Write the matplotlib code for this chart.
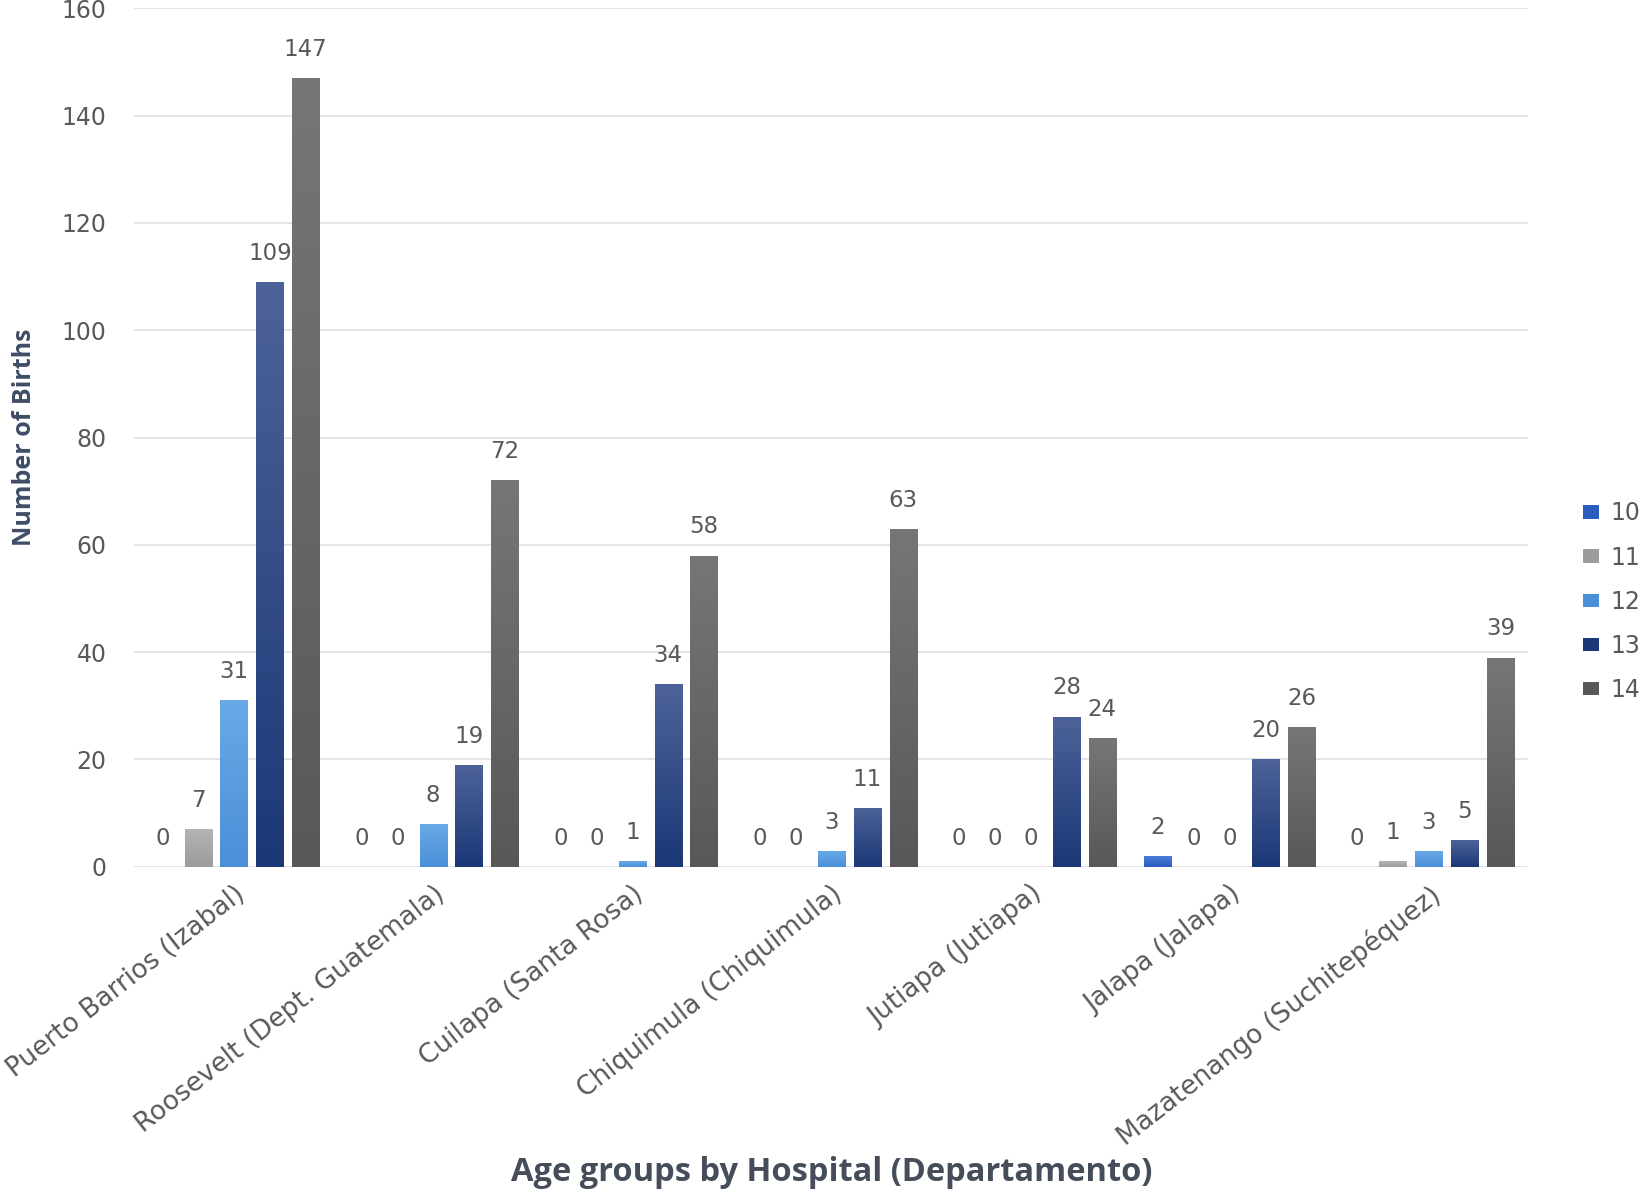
import numpy as np
import matplotlib
matplotlib.use("Agg")
import matplotlib.pyplot as plt
from matplotlib.colors import LinearSegmentedColormap
from matplotlib.patches import Patch

# Births by mother's age at each hospital
hospitals = ["Puerto Barrios (Izabal)", "Roosevelt (Dept. Guatemala)",
             "Cuilapa (Santa Rosa)", "Chiquimula (Chiquimula)",
             "Jutiapa (Jutiapa)", "Jalapa (Jalapa)",
             "Mazatenango (Suchitepéquez)"]
ages = ["10", "11", "12", "13", "14"]
age10 = [0, 0, 0, 0, 0, 2, 0]
age11 = [7, 0, 0, 0, 0, 0, 1]
age12 = [31, 8, 1, 3, 0, 0, 3]
age13 = [109, 19, 34, 11, 28, 20, 5]
age14 = [147, 72, 58, 63, 24, 26, 39]
series = [age10, age11, age12, age13, age14]

# (bottom, top) shades for each series
shades = [("#2c5cc0", "#4a7bd6"),
          ("#9c9c9c", "#b4b4b4"),
          ("#4a8fd8", "#6aa9e6"),
          ("#1b3877", "#4d6299"),
          ("#585858", "#767676")]
txt = "#595959"

fig = plt.figure(figsize=(16.4, 11.89), dpi=100)
ax = fig.add_axes([0.082, 0.271, 0.85, 0.722])

x = np.arange(len(hospitals))
slot = 0.18
width = 0.137

for i, (vals, (c0, c1)) in enumerate(zip(series, shades)):
    pos = x + (i - 2) * slot
    bars = ax.bar(pos, vals, width, color=c0, linewidth=0, zorder=2)
    cmap = LinearSegmentedColormap.from_list("g%d" % i, [c0, c1])
    grad = np.linspace(0, 1, 100).reshape(-1, 1)
    for b, v in zip(bars, vals):
        if v > 0:
            im = ax.imshow(grad, extent=[b.get_x(), b.get_x() + width, 0, v],
                           origin="lower", aspect="auto", cmap=cmap, zorder=3)
            im.set_clip_path(b)
        ax.text(b.get_x() + width / 2, v + 3.2, str(v), ha="center",
                va="bottom", fontsize=16.5, color=txt)

ax.set_xlim(-0.5, len(hospitals) - 0.5)
ax.set_ylim(0, 160)
ax.set_yticks(range(0, 161, 20))
ax.tick_params(axis="y", length=0, labelsize=17, labelcolor=txt, pad=20)
ax.tick_params(axis="x", length=0, pad=10)
ax.set_xticks(x)
ax.set_xticklabels(hospitals, rotation=38, ha="right", rotation_mode="anchor",
                   fontsize=19, color=txt)
ax.yaxis.grid(True, color="#e0e0e0", linewidth=1.2, zorder=0)
ax.set_axisbelow(True)
for s in ax.spines.values():
    s.set_visible(False)

fig.text(0.015, 0.632, "Number of Births", rotation=90, ha="center",
         va="center", fontsize=18, color="#3e4c66", family="Open Sans",
         fontweight="bold")
fig.text(0.507, 0.0, "Age groups by Hospital (Departamento)", ha="center",
         va="bottom", fontsize=23.5, color="#454d5a", family="Open Sans",
         fontweight="bold")

handles = [Patch(facecolor=c0, label=a) for a, (c0, c1) in zip(ages, shades)]
fig.legend(handles=handles, loc="center left", bbox_to_anchor=(0.965, 0.494),
           frameon=False, fontsize=17, labelcolor=txt, handlelength=0.7,
           handleheight=0.5, handletextpad=0.5, labelspacing=0.85,
           borderpad=0, borderaxespad=0)

fig.savefig("out.png", dpi=100)
